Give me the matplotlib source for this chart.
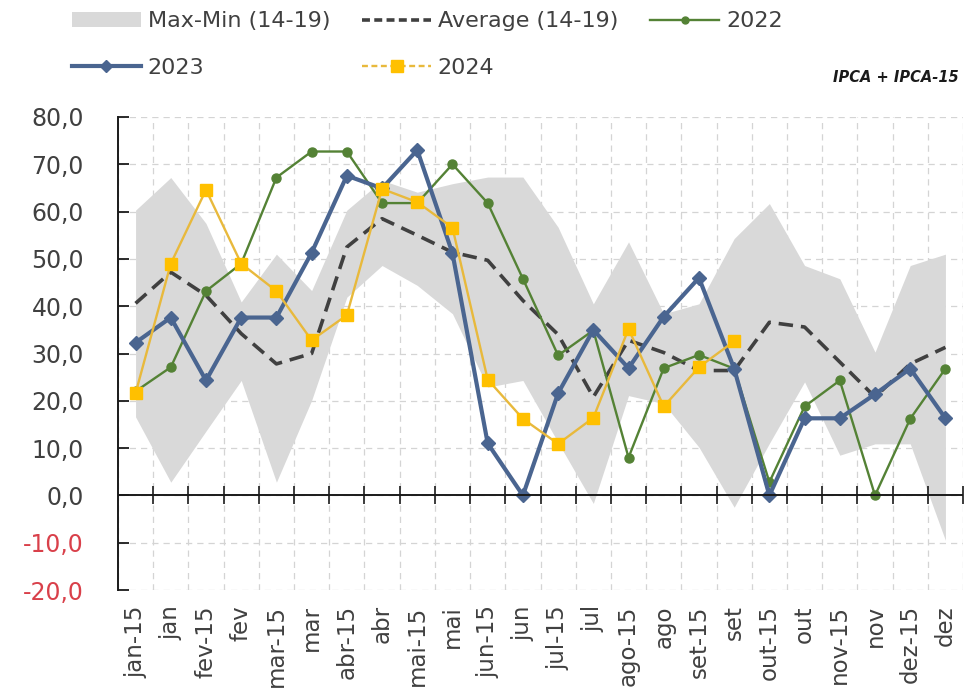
import numpy as np
import matplotlib
matplotlib.use('Agg')
import matplotlib.pyplot as plt
from matplotlib.patches import Patch
from matplotlib.lines import Line2D

months = ['jan-15', 'jan', 'fev-15', 'fev', 'mar-15', 'mar', 'abr-15', 'abr',
          'mai-15', 'mai', 'jun-15', 'jun', 'jul-15', 'jul', 'ago-15', 'ago',
          'set-15', 'set', 'out-15', 'out', 'nov-15', 'nov', 'dez-15', 'dez']

band_max = [60.3, 67.2, 57.5, 40.9, 51.0, 43.3, 60.3, 66.6, 64.1, 65.9, 67.3, 67.3,
            56.7, 40.5, 53.6, 38.4, 40.5, 54.3, 61.7, 48.6, 45.8, 30.3, 48.6, 51.0]
band_min = [16.6, 2.8, 13.6, 24.3, 2.8, 20.1, 41.9, 48.6, 44.4, 38.4, 22.9, 24.3,
            11.2, -1.7, 21.1, 19.4, 10.2, -2.5, 11.0, 24.0, 8.5, 10.9, 10.9, -9.5]
average = [40.6, 47.2, 42.3, 34.2, 27.8, 30.0, 52.5, 58.5, 55.0, 51.4, 49.7, 41.2,
           34.0, 20.8, 32.8, 30.2, 26.4, 26.4, 36.6, 35.6, 28.2, 20.8, 27.8, 31.3]
y2022 = [22.0, 27.1, 43.2, 49.0, 67.2, 72.7, 72.7, 61.8, 61.8, 70.0, 61.8, 45.8,
         29.6, 34.9, 8.0, 26.9, 29.7, 26.8, 2.8, 18.8, 24.3, 0.0, 16.2, 26.8]
y2023 = [32.3, 37.6, 24.3, 37.6, 37.6, 51.3, 67.6, 64.9, 73.0, 51.2, 11.0, 0.0,
         21.6, 35.0, 26.9, 37.8, 46.0, 26.8, 0.0, 16.3, 16.3, 21.4, 26.8, 16.3]
y2024 = [21.6, 49.0, 64.6, 49.0, 43.2, 32.8, 38.1, 64.8, 62.0, 56.6, 24.5, 16.2,
         10.9, 16.4, 35.2, 18.8, 27.1, 32.6] + [np.nan] * 6

yticks = list(range(-20, 81, 10))

BAND = '#d9d9d9'
AVG = '#404040'
GREEN = '#548235'
BLUE = '#4a6590'
GOLD_LINE = '#e8b93c'
GOLD = '#ffc000'
TXT = '#404040'
RED = '#d9404a'

fig = plt.figure(figsize=(9.79, 6.98), dpi=100)
ax = fig.add_axes([0.1205, 0.1547, 0.8632, 0.6777])

x = np.arange(len(months))

ax.fill_between(x, band_min, band_max, color=BAND, lw=0, zorder=1)
ax.plot(x, average, color=AVG, lw=2.6, dashes=(4.0, 2.2), zorder=2)
ax.plot(x, y2022, color=GREEN, lw=1.7, marker='o', ms=6.5, zorder=3)
ax.plot(x, y2023, color=BLUE, lw=3.0, marker='D', ms=7.5, zorder=4)
ax.plot(x, y2024, color=GOLD_LINE, lw=1.7, marker='s', ms=8.5,
        mfc=GOLD, mec=GOLD, zorder=5)

# zero line with crossing ticks at the category boundaries
bounds = np.arange(0.5, len(months), 1.0)
ax.axhline(0, color='#1a1a1a', lw=1.4, zorder=6)
ax.plot(bounds, np.zeros_like(bounds), ls='none', marker='|', ms=13,
        mew=1.2, color='#1a1a1a', zorder=6)

ax.set_xlim(-0.5, len(months) - 0.5)
ax.set_ylim(-20, 80)

ax.set_xticks(x)
ax.set_xticklabels(months, rotation=90, fontsize=16.5, color=TXT)
ax.set_xticks(np.arange(-0.5, len(months), 1.0), minor=True)
ax.tick_params(axis='x', which='both', length=0, pad=11)

ax.set_yticks(yticks)
ax.set_yticklabels([f'{v:.1f}'.replace('.', ',') for v in yticks], fontsize=17)
for lab, v in zip(ax.get_yticklabels(), yticks):
    lab.set_color(RED if v < 0 else TXT)
ax.tick_params(axis='y', direction='in', length=8, width=1.3,
               color='#1a1a1a', pad=24.5)

ax.grid(axis='x', which='minor', color='#d4d4d4', lw=0.9, dashes=(5, 4))
ax.grid(axis='y', which='major', color='#d4d4d4', lw=0.9, dashes=(5, 4))
ax.set_axisbelow(True)

for side in ['top', 'right', 'bottom']:
    ax.spines[side].set_visible(False)
ax.spines['left'].set_color('#1a1a1a')
ax.spines['left'].set_linewidth(1.4)

# legend: row-major order needs column-wise handle list
h_band = Patch(facecolor=BAND, edgecolor='none', label='Max-Min (14-19)')
h_avg = Line2D([], [], color=AVG, lw=2.6, dashes=(2.2, 1.2), label='Average (14-19)')
h_22 = Line2D([], [], color=GREEN, lw=1.7, marker='o', ms=5, label='2022')
h_23 = Line2D([], [], color=BLUE, lw=3.0, marker='D', ms=6, label='2023')
h_24 = Line2D([], [], color=GOLD_LINE, lw=1.7, dashes=(2.5, 1.5), marker='s', ms=8,
              mfc=GOLD, mec=GOLD, label='2024')
leg = fig.legend(handles=[h_band, h_23, h_avg, h_24, h_22], ncol=3,
                 loc='upper left', bbox_to_anchor=(0.069, 0.99), frameon=False,
                 fontsize=16, handlelength=3.1, handletextpad=0.3,
                 columnspacing=1.45, labelspacing=1.2, borderpad=0.2,
                 borderaxespad=0)
for t in leg.get_texts():
    t.set_color(TXT)

fig.text(0.979, 0.889, 'IPCA + IPCA-15', ha='right', va='center',
         fontsize=10.5, fontweight='bold', fontstyle='italic', color='#1a1a1a')

fig.savefig('out.png', dpi=100)
